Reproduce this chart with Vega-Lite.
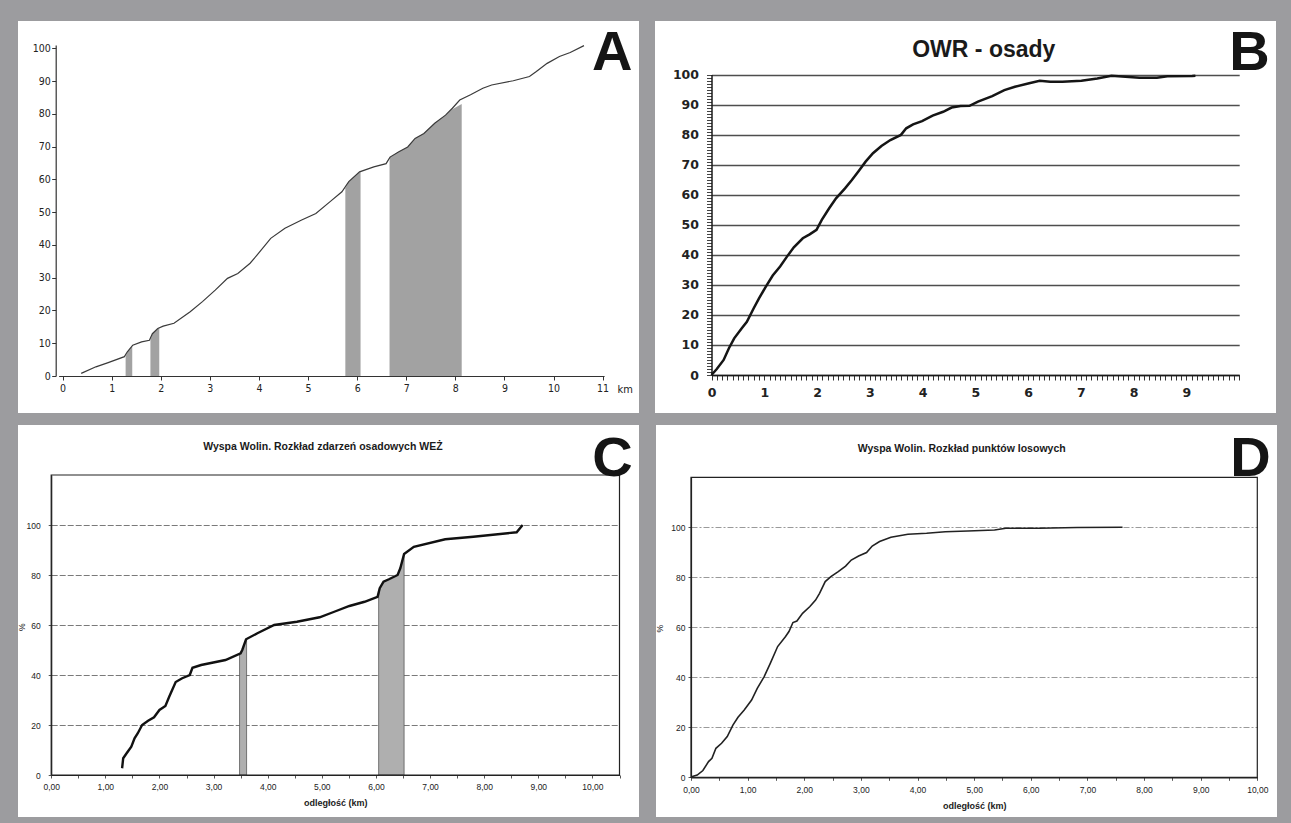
{
  "$schema": "https://vega.github.io/schema/vega-lite/v6.json",
  "background": "#9c9c9f",
  "padding": {"left": 17, "top": 21, "right": 16, "bottom": 6},
  "config": {
    "view": {"fill": "#ffffff", "stroke": null},
    "axis": {"labelFont": "Liberation Sans", "titleFont": "Liberation Sans", "domainColor": "#222", "tickColor": "#333", "labelColor": "#222", "titleColor": "#222", "grid": false, "labelOverlap": false, "labelBound": false, "labelFlush": false, "tickCount": 500}
  },
  "datasets": {
    "A_curve": [
      {"km": 0.38, "pct": 0.8}, {"km": 0.68, "pct": 2.8}, {"km": 0.93, "pct": 4.1}, {"km": 1.26, "pct": 5.9}, {"km": 1.32, "pct": 7.4}, {"km": 1.43, "pct": 9.4}, {"km": 1.61, "pct": 10.4}, {"km": 1.77, "pct": 10.9}, {"km": 1.83, "pct": 12.9}, {"km": 1.94, "pct": 14.5}, {"km": 2.05, "pct": 15.2}, {"km": 2.27, "pct": 16.1}, {"km": 2.6, "pct": 19.6}, {"km": 2.85, "pct": 22.7}, {"km": 3.11, "pct": 26.2}, {"km": 3.36, "pct": 29.8}, {"km": 3.57, "pct": 31.3}, {"km": 3.82, "pct": 34.4}, {"km": 3.99, "pct": 37.4}, {"km": 4.24, "pct": 42.0}, {"km": 4.53, "pct": 45.1}, {"km": 4.87, "pct": 47.6}, {"km": 5.16, "pct": 49.6}, {"km": 5.45, "pct": 53.2}, {"km": 5.69, "pct": 56.2}, {"km": 5.83, "pct": 59.3}, {"km": 6.05, "pct": 62.3}, {"km": 6.34, "pct": 63.8}, {"km": 6.59, "pct": 64.8}, {"km": 6.67, "pct": 66.8}, {"km": 6.85, "pct": 68.4}, {"km": 7.03, "pct": 69.9}, {"km": 7.18, "pct": 72.5}, {"km": 7.36, "pct": 74.0}, {"km": 7.58, "pct": 77.1}, {"km": 7.8, "pct": 79.6}, {"km": 7.94, "pct": 81.7}, {"km": 8.09, "pct": 84.2}, {"km": 8.31, "pct": 85.8}, {"km": 8.56, "pct": 87.8}, {"km": 8.74, "pct": 88.8}, {"km": 9.18, "pct": 90.1}, {"km": 9.51, "pct": 91.4}, {"km": 9.65, "pct": 92.9}, {"km": 9.87, "pct": 95.4}, {"km": 10.12, "pct": 97.5}, {"km": 10.34, "pct": 98.7}, {"km": 10.62, "pct": 100.8}
    ],
    "A_shade": [
      {"seg": "s1", "km": 1.285, "pct": 5.9}, {"seg": "s1", "km": 1.32, "pct": 7.4}, {"seg": "s1", "km": 1.42, "pct": 9.2},
      {"seg": "s2", "km": 1.79, "pct": 11.0}, {"seg": "s2", "km": 1.83, "pct": 12.9}, {"seg": "s2", "km": 1.97, "pct": 14.7},
      {"seg": "s3", "km": 5.76, "pct": 57.3}, {"seg": "s3", "km": 5.83, "pct": 59.3}, {"seg": "s3", "km": 5.95, "pct": 61.0}, {"seg": "s3", "km": 6.07, "pct": 62.4},
      {"seg": "s4", "km": 6.66, "pct": 65.5}, {"seg": "s4", "km": 6.67, "pct": 66.8}, {"seg": "s4", "km": 6.85, "pct": 68.4}, {"seg": "s4", "km": 7.03, "pct": 69.9}, {"seg": "s4", "km": 7.18, "pct": 72.5}, {"seg": "s4", "km": 7.36, "pct": 74.0}, {"seg": "s4", "km": 7.58, "pct": 77.1}, {"seg": "s4", "km": 7.8, "pct": 79.6}, {"seg": "s4", "km": 7.94, "pct": 81.4}, {"seg": "s4", "km": 8.13, "pct": 83.0}
    ],
    "B_curve": [
      {"km": 0, "pct": 0}, {"km": 0.1, "pct": 2.0}, {"km": 0.23, "pct": 5.0}, {"km": 0.33, "pct": 8.9}, {"km": 0.43, "pct": 12.2}, {"km": 0.57, "pct": 15.5}, {"km": 0.67, "pct": 17.7}, {"km": 0.8, "pct": 22.2}, {"km": 0.9, "pct": 25.5}, {"km": 1.03, "pct": 29.4}, {"km": 1.16, "pct": 33.1}, {"km": 1.3, "pct": 36.1}, {"km": 1.43, "pct": 39.4}, {"km": 1.56, "pct": 42.5}, {"km": 1.73, "pct": 45.5}, {"km": 1.86, "pct": 46.8}, {"km": 1.99, "pct": 48.3}, {"km": 2.09, "pct": 51.6}, {"km": 2.23, "pct": 55.5}, {"km": 2.36, "pct": 58.8}, {"km": 2.53, "pct": 62.1}, {"km": 2.66, "pct": 64.9}, {"km": 2.79, "pct": 67.9}, {"km": 2.92, "pct": 71.0}, {"km": 3.06, "pct": 73.8}, {"km": 3.22, "pct": 76.2}, {"km": 3.39, "pct": 78.2}, {"km": 3.59, "pct": 79.9}, {"km": 3.69, "pct": 82.1}, {"km": 3.82, "pct": 83.4}, {"km": 3.99, "pct": 84.5}, {"km": 4.19, "pct": 86.3}, {"km": 4.39, "pct": 87.6}, {"km": 4.55, "pct": 89.0}, {"km": 4.72, "pct": 89.5}, {"km": 4.89, "pct": 89.6}, {"km": 5.05, "pct": 91.0}, {"km": 5.32, "pct": 92.8}, {"km": 5.55, "pct": 94.8}, {"km": 5.75, "pct": 95.9}, {"km": 6.02, "pct": 97.1}, {"km": 6.22, "pct": 97.9}, {"km": 6.42, "pct": 97.6}, {"km": 6.65, "pct": 97.6}, {"km": 7.01, "pct": 97.9}, {"km": 7.31, "pct": 98.7}, {"km": 7.58, "pct": 99.6}, {"km": 7.78, "pct": 99.3}, {"km": 8.11, "pct": 98.9}, {"km": 8.44, "pct": 98.9}, {"km": 8.64, "pct": 99.4}, {"km": 9.11, "pct": 99.5}, {"km": 9.17, "pct": 99.6}
    ],
    "C_curve": [
      {"km": 1.31, "pct": 2.7}, {"km": 1.33, "pct": 6.7}, {"km": 1.4, "pct": 8.9}, {"km": 1.48, "pct": 11.3}, {"km": 1.54, "pct": 14.7}, {"km": 1.6, "pct": 16.7}, {"km": 1.68, "pct": 20.0}, {"km": 1.79, "pct": 21.7}, {"km": 1.9, "pct": 23.1}, {"km": 2.0, "pct": 26.0}, {"km": 2.11, "pct": 27.6}, {"km": 2.18, "pct": 31.3}, {"km": 2.3, "pct": 37.2}, {"km": 2.42, "pct": 38.7}, {"km": 2.56, "pct": 40.0}, {"km": 2.61, "pct": 42.9}, {"km": 2.77, "pct": 44.0}, {"km": 3.22, "pct": 46.0}, {"km": 3.5, "pct": 48.7}, {"km": 3.53, "pct": 50.0}, {"km": 3.6, "pct": 54.3}, {"km": 3.81, "pct": 56.7}, {"km": 4.12, "pct": 60.0}, {"km": 4.54, "pct": 61.3}, {"km": 4.96, "pct": 63.1}, {"km": 5.23, "pct": 65.3}, {"km": 5.51, "pct": 67.6}, {"km": 5.79, "pct": 69.3}, {"km": 6.03, "pct": 71.3}, {"km": 6.07, "pct": 74.7}, {"km": 6.14, "pct": 77.3}, {"km": 6.24, "pct": 78.3}, {"km": 6.4, "pct": 80.0}, {"km": 6.45, "pct": 82.7}, {"km": 6.52, "pct": 88.4}, {"km": 6.7, "pct": 91.3}, {"km": 7.28, "pct": 94.3}, {"km": 7.8, "pct": 95.3}, {"km": 8.6, "pct": 97.1}, {"km": 8.71, "pct": 100}
    ],
    "C_shade": [
      {"seg": "s1", "km": 3.48, "pct": 48.5}, {"seg": "s1", "km": 3.53, "pct": 50.0}, {"seg": "s1", "km": 3.6, "pct": 54.3}, {"seg": "s1", "km": 3.61, "pct": 54.6},
      {"seg": "s2", "km": 6.05, "pct": 71.4}, {"seg": "s2", "km": 6.07, "pct": 74.7}, {"seg": "s2", "km": 6.14, "pct": 77.3}, {"seg": "s2", "km": 6.24, "pct": 78.3}, {"seg": "s2", "km": 6.4, "pct": 80.0}, {"seg": "s2", "km": 6.45, "pct": 82.7}, {"seg": "s2", "km": 6.52, "pct": 88.4}
    ],
    "D_curve": [
      {"km": 0.01, "pct": 0.25}, {"km": 0.11, "pct": 0.9}, {"km": 0.21, "pct": 2.7}, {"km": 0.31, "pct": 6.3}, {"km": 0.37, "pct": 7.6}, {"km": 0.44, "pct": 11.6}, {"km": 0.54, "pct": 13.6}, {"km": 0.64, "pct": 16.3}, {"km": 0.74, "pct": 20.9}, {"km": 0.83, "pct": 24.0}, {"km": 0.94, "pct": 26.9}, {"km": 1.07, "pct": 30.9}, {"km": 1.17, "pct": 35.6}, {"km": 1.29, "pct": 40.2}, {"km": 1.4, "pct": 45.6}, {"km": 1.53, "pct": 52.3}, {"km": 1.67, "pct": 56.3}, {"km": 1.73, "pct": 58.3}, {"km": 1.8, "pct": 61.9}, {"km": 1.87, "pct": 62.5}, {"km": 1.97, "pct": 65.6}, {"km": 2.1, "pct": 68.3}, {"km": 2.2, "pct": 70.9}, {"km": 2.27, "pct": 73.6}, {"km": 2.37, "pct": 78.3}, {"km": 2.47, "pct": 80.3}, {"km": 2.6, "pct": 82.3}, {"km": 2.73, "pct": 84.5}, {"km": 2.83, "pct": 86.9}, {"km": 2.96, "pct": 88.5}, {"km": 3.1, "pct": 89.9}, {"km": 3.2, "pct": 92.5}, {"km": 3.33, "pct": 94.3}, {"km": 3.53, "pct": 96.0}, {"km": 3.83, "pct": 97.2}, {"km": 4.16, "pct": 97.6}, {"km": 4.49, "pct": 98.2}, {"km": 4.89, "pct": 98.5}, {"km": 5.36, "pct": 98.9}, {"km": 5.56, "pct": 99.6}, {"km": 6.15, "pct": 99.6}, {"km": 6.82, "pct": 99.9}, {"km": 7.62, "pct": 100}
    ]
  },
  "spacing": 12,
  "vconcat": [
    {
      "spacing": 16,
      "hconcat": [
        {
          "width": 621,
          "height": 392,
          "layer": [
            {
              "data": {"name": "A_shade"},
              "mark": {"type": "area", "fill": "#a2a2a2", "opacity": 1},
              "encoding": {
                "x": {"field": "km", "type": "quantitative", "scale": {"domain": [-0.08, 11.03], "range": [40.6, 586.1], "nice": false, "zero": false},
                  "axis": {"orient": "bottom", "offset": -37, "values": [0, 1, 2, 3, 4, 5, 6, 7, 8, 9, 10, 11], "tickCount": 500, "format": "d", "tickSize": 4, "labelPadding": 3, "labelFont": "DejaVu Sans Condensed, Liberation Sans Narrow, DejaVu Sans", "labelFontSize": 10.5, "domainColor": "#333", "domainWidth": 1.2, "title": "km", "titleX": 599, "titleY": 13, "titleAlign": "left", "titleBaseline": "middle", "titleFontWeight": "normal", "titleFontSize": 11, "titleFont": "DejaVu Sans Condensed, Liberation Sans Narrow, DejaVu Sans"}},
                "y": {"field": "pct", "type": "quantitative", "stack": null, "scale": {"domain": [0, 101], "range": [355, 24], "nice": false, "zero": false},
                  "axis": {"orient": "left", "offset": -37.7, "values": [0, 10, 20, 30, 40, 50, 60, 70, 80, 90, 100], "tickCount": 500, "format": "d", "tickSize": 4, "labelPadding": 1.5, "labelFont": "DejaVu Sans Condensed, Liberation Sans Narrow, DejaVu Sans", "labelFontSize": 10.5, "domainColor": "#333", "domainWidth": 1.2, "title": null}},
                "detail": {"field": "seg", "type": "nominal"}
              }
            },
            {
              "data": {"name": "A_curve"},
              "mark": {"type": "line", "color": "#3a3a3a", "strokeWidth": 1.2},
              "encoding": {
                "x": {"field": "km", "type": "quantitative"},
                "y": {"field": "pct", "type": "quantitative"}
              }
            },
            {
              "data": {"values": [{"t": "A"}]},
              "mark": {"type": "text", "font": "Liberation Sans", "fontSize": 56, "fontWeight": "bold", "align": "right", "baseline": "alphabetic", "color": "#151515"},
              "encoding": {"x": {"datum": 11.61}, "y": {"datum": 93.4}, "text": {"field": "t"}}
            }
          ]
        },
        {
          "width": 621,
          "height": 392,
          "layer": [
            {
              "data": {"name": "B_curve"},
              "mark": {"type": "line", "color": "#151515", "strokeWidth": 2.5},
              "encoding": {
                "x": {"field": "km", "type": "quantitative", "scale": {"domain": [0, 10], "range": [56.5, 584.2], "nice": false, "zero": false},
                  "axis": {"orient": "bottom", "offset": -38, "values": [0, 0.1, 0.2, 0.3, 0.4, 0.5, 0.6, 0.7, 0.8, 0.9, 1, 1.1, 1.2, 1.3, 1.4, 1.5, 1.6, 1.7, 1.8, 1.9, 2, 2.1, 2.2, 2.3, 2.4, 2.5, 2.6, 2.7, 2.8, 2.9, 3, 3.1, 3.2, 3.3, 3.4, 3.5, 3.6, 3.7, 3.8, 3.9, 4, 4.1, 4.2, 4.3, 4.4, 4.5, 4.6, 4.7, 4.8, 4.9, 5, 5.1, 5.2, 5.3, 5.4, 5.5, 5.6, 5.7, 5.8, 5.9, 6, 6.1, 6.2, 6.3, 6.4, 6.5, 6.6, 6.7, 6.8, 6.9, 7, 7.1, 7.2, 7.3, 7.4, 7.5, 7.6, 7.7, 7.8, 7.9, 8, 8.1, 8.2, 8.3, 8.4, 8.5, 8.6, 8.7, 8.8, 8.9, 9, 9.1, 9.2, 9.3, 9.4, 9.5, 9.6, 9.7, 9.8, 9.9, 10],
                    "tickCount": 500, "labelExpr": "datum.value % 1 === 0 && datum.value < 10 ? format(datum.value, 'd') : ''", "tickSize": 5, "tickColor": "#333", "labelPadding": 6, "labelFont": "DejaVu Sans", "labelFontSize": 12.5, "labelFontWeight": "bold", "domainColor": "#1a1a1a", "domainWidth": 1.5, "title": null}},
                "y": {"field": "pct", "type": "quantitative", "scale": {"domain": [0, 100], "range": [354, 53.5], "nice": false, "zero": false},
                  "axis": {"orient": "left", "offset": -56.5, "values": [0, 1, 2, 3, 4, 5, 6, 7, 8, 9, 10, 11, 12, 13, 14, 15, 16, 17, 18, 19, 20, 21, 22, 23, 24, 25, 26, 27, 28, 29, 30, 31, 32, 33, 34, 35, 36, 37, 38, 39, 40, 41, 42, 43, 44, 45, 46, 47, 48, 49, 50, 51, 52, 53, 54, 55, 56, 57, 58, 59, 60, 61, 62, 63, 64, 65, 66, 67, 68, 69, 70, 71, 72, 73, 74, 75, 76, 77, 78, 79, 80, 81, 82, 83, 84, 85, 86, 87, 88, 89, 90, 91, 92, 93, 94, 95, 96, 97, 98, 99, 100],
                    "tickCount": 500, "labelExpr": "datum.value % 10 === 0 ? format(datum.value, 'd') : ''", "tickSize": 5, "tickColor": "#444", "labelPadding": 8, "labelFont": "DejaVu Sans", "labelFontSize": 12.5, "labelFontWeight": "bold", "domainColor": "#1a1a1a", "domainWidth": 1.5,
                    "grid": true, "gridColor": "#4e4e4e", "gridWidth": 1.4, "gridOpacity": {"condition": {"test": "datum.value % 10 === 0", "value": 1}, "value": 0}, "title": null}}
              }
            },
            {
              "data": {"values": [{"t": "OWR - osady"}]},
              "mark": {"type": "text", "font": "Liberation Sans", "fontSize": 23, "fontWeight": "bold", "align": "center", "baseline": "alphabetic", "color": "#1a1a1a"},
              "encoding": {"x": {"datum": 5.16}, "y": {"datum": 105.9}, "text": {"field": "t"}}
            },
            {
              "data": {"values": [{"t": "B"}]},
              "mark": {"type": "text", "font": "Liberation Sans", "fontSize": 56, "fontWeight": "bold", "align": "right", "baseline": "alphabetic", "color": "#151515"},
              "encoding": {"x": {"datum": 10.576}, "y": {"datum": 101.5}, "text": {"field": "t"}}
            }
          ]
        }
      ]
    },
    {
      "spacing": 16,
      "hconcat": [
        {
          "width": 621,
          "height": 392,
          "layer": [
            {
              "data": {"name": "C_shade"},
              "mark": {"type": "area", "fill": "#afafaf", "stroke": "#5a5a5a", "strokeWidth": 0.8},
              "encoding": {
                "x": {"field": "km", "type": "quantitative", "scale": {"domain": [0, 10.5], "range": [33.2, 601.5], "nice": false, "zero": false},
                  "axis": {"orient": "bottom", "offset": -42, "values": [0, 0.5, 1, 1.5, 2, 2.5, 3, 3.5, 4, 4.5, 5, 5.5, 6, 6.5, 7, 7.5, 8, 8.5, 9, 9.5, 10, 10.5], "tickCount": 500,
                    "labelExpr": "datum.value % 1 === 0 ? replace(format(datum.value, '.2f'), '.', ',') : ''", "tickSize": 3, "tickColor": "#555", "labelPadding": 4.5, "labelFontSize": 8.5, "domainColor": "#222", "domainWidth": 1.2,
                    "title": "odległość (km)", "titleFontSize": 9, "titleFontWeight": "bold", "titleY": 27.7, "titleBaseline": "middle"}},
                "y": {"field": "pct", "type": "quantitative", "stack": null, "scale": {"domain": [0, 120], "range": [350, 50], "nice": false, "zero": false},
                  "axis": {"orient": "left", "offset": -33.2, "values": [0, 20, 40, 60, 80, 100], "tickCount": 500,
                    "format": "d", "tickSize": 3, "tickColor": "#555", "labelPadding": 8, "labelFontSize": 8.5, "domainColor": "#222", "domainWidth": 1.2,
                    "grid": true, "gridWidth": 1, "gridColor": "#7a7a7a", "gridDash": [6, 2],
                    "gridOpacity": {"condition": {"test": "datum.value === 0", "value": 0}, "value": 1},
                    "title": "%", "titleFontSize": 8.5, "titleFontWeight": "normal", "titleX": -29.6, "titleY": 201.7, "titleAngle": -90, "titleAlign": "center", "titleBaseline": "middle"}},
                "detail": {"field": "seg", "type": "nominal"}
              }
            },
            {
              "data": {"values": [{"box": "plot area"}]},
              "mark": {"type": "rect", "fill": null, "fillOpacity": 0, "stroke": "#222", "strokeWidth": 1.2},
              "encoding": {"x": {"datum": 0}, "x2": {"datum": 10.5}, "y": {"datum": 0}, "y2": {"datum": 120}}
            },
            {
              "data": {"name": "C_curve"},
              "mark": {"type": "line", "color": "#111", "strokeWidth": 2.4},
              "encoding": {
                "x": {"field": "km", "type": "quantitative"},
                "y": {"field": "pct", "type": "quantitative"}
              }
            },
            {
              "data": {"values": [{"t": "Wyspa Wolin. Rozkład zdarzeń osadowych WEŻ"}]},
              "mark": {"type": "text", "font": "Liberation Sans", "fontSize": 10.5, "fontWeight": "bold", "align": "center", "baseline": "alphabetic", "color": "#1a1a1a"},
              "encoding": {"x": {"datum": 5.02}, "y": {"datum": 130}, "text": {"field": "t"}}
            },
            {
              "data": {"values": [{"t": "C"}]},
              "mark": {"type": "text", "font": "Liberation Sans", "fontSize": 56, "fontWeight": "bold", "align": "right", "baseline": "alphabetic", "color": "#151515"},
              "encoding": {"x": {"datum": 10.743}, "y": {"datum": 119.6}, "text": {"field": "t"}}
            }
          ]
        },
        {
          "width": 621,
          "height": 392,
          "layer": [
            {
              "data": {"name": "D_curve"},
              "mark": {"type": "line", "color": "#222", "strokeWidth": 1.6},
              "encoding": {
                "x": {"field": "km", "type": "quantitative", "scale": {"domain": [0, 10], "range": [35, 601.3], "nice": false, "zero": false},
                  "axis": {"orient": "bottom", "offset": -39.7, "values": [0, 0.5, 1, 1.5, 2, 2.5, 3, 3.5, 4, 4.5, 5, 5.5, 6, 6.5, 7, 7.5, 8, 8.5, 9, 9.5, 10], "tickCount": 500,
                    "labelExpr": "datum.value % 1 === 0 ? replace(format(datum.value, '.2f'), '.', ',') : ''", "tickSize": 3, "tickColor": "#555", "labelPadding": 5, "labelFontSize": 8.5, "domainColor": "#222", "domainWidth": 1.2,
                    "title": "odległość (km)", "titleFontSize": 9, "titleFontWeight": "bold", "titleY": 27.7, "titleBaseline": "middle"}},
                "y": {"field": "pct", "type": "quantitative", "scale": {"domain": [0, 120], "range": [352.3, 52.3], "nice": false, "zero": false},
                  "axis": {"orient": "left", "offset": -35, "values": [0, 20, 40, 60, 80, 100], "tickCount": 500,
                    "format": "d", "tickSize": 3, "tickColor": "#555", "labelPadding": 3, "labelFontSize": 8.5, "domainColor": "#222", "domainWidth": 1.2,
                    "grid": true, "gridWidth": 1, "gridColor": "#9a9a9a", "gridDash": [6, 2, 2, 2],
                    "gridOpacity": {"condition": {"test": "datum.value === 0", "value": 0}, "value": 1},
                    "title": "%", "titleFontSize": 8.5, "titleFontWeight": "normal", "titleX": -31.7, "titleY": 203.3, "titleAngle": -90, "titleAlign": "center", "titleBaseline": "middle"}}
              }
            },
            {
              "data": {"values": [{"box": "plot area"}]},
              "mark": {"type": "rect", "fill": null, "fillOpacity": 0, "stroke": "#222", "strokeWidth": 1.2},
              "encoding": {"x": {"datum": 0}, "x2": {"datum": 10}, "y": {"datum": 0}, "y2": {"datum": 120}}
            },
            {
              "data": {"values": [{"t": "Wyspa Wolin. Rozkład punktów losowych"}]},
              "mark": {"type": "text", "font": "Liberation Sans", "fontSize": 10.5, "fontWeight": "bold", "align": "center", "baseline": "alphabetic", "color": "#1a1a1a"},
              "encoding": {"x": {"datum": 4.78}, "y": {"datum": 130.2}, "text": {"field": "t"}}
            },
            {
              "data": {"values": [{"t": "D"}]},
              "mark": {"type": "text", "font": "Liberation Sans", "fontSize": 56, "fontWeight": "bold", "align": "right", "baseline": "alphabetic", "color": "#151515"},
              "encoding": {"x": {"datum": 10.235}, "y": {"datum": 120.5}, "text": {"field": "t"}}
            }
          ]
        }
      ]
    }
  ]
}
